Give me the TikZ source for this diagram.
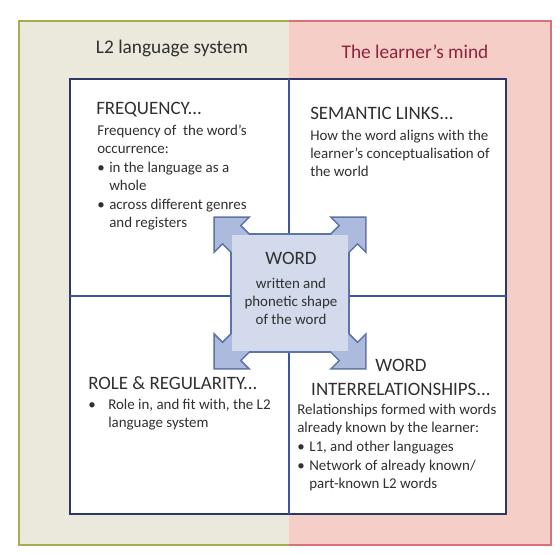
\documentclass[tikz,border=0pt]{standalone}
\usepackage{fontspec}
\setmainfont{Carlito}
\usepackage{tikz}

\definecolor{olivepanel}{HTML}{EAE9DB}
\definecolor{oliveline}{HTML}{A5AD4E}
\definecolor{pinkpanel}{HTML}{F4CEC7}
\definecolor{pinkline}{HTML}{D8707C}
\definecolor{navyline}{HTML}{2E3866}
\definecolor{divline}{HTML}{3B55A2}
\definecolor{wordfill}{HTML}{D3DAEC}
\definecolor{arrowfill}{HTML}{ABBADD}
\definecolor{wordline}{HTML}{5E73A8}
\definecolor{inktext}{HTML}{303030}
\definecolor{mindred}{HTML}{8E2340}

\newcommand{\bul}{\makebox[9pt][l]{\textbullet}}
\newcommand{\hng}{\hspace*{9pt}}

\tikzset{
  panetitle/.style={anchor=center, inner sep=0.75pt, font=\fontsize{14.5}{17}\selectfont},
  headline/.style={anchor=north west, inner sep=0pt, align=left, text=inktext, font=\fontsize{14.2}{18}\selectfont},
  bodyline/.style={anchor=north west, inner sep=0pt, align=left, text=inktext, font=\fontsize{11.2}{13.4}\selectfont},
}

\begin{document}
\begin{tikzpicture}[x=0.75pt,y=0.75pt,yscale=-1,xscale=1]
\useasboundingbox (0,0) rectangle (560,554);

%Shape: Rectangle [left pane]
\fill[olivepanel] (19,21) rectangle (289,545);
%Shape: Rectangle [right pane]
\fill[pinkpanel] (289,21) rectangle (551,545);
\draw[oliveline, line width=1.1pt] (289,21) -- (19,21) -- (19,545) -- (289,545);
\draw[pinkline, line width=1.1pt] (289,21) -- (551,21) -- (551,545) -- (289,545);

%Shape: Rectangle [inner box]
\filldraw[fill=white, draw=navyline, line width=1.5pt] (70,79) rectangle (506,514);
%Straight Lines
\draw[divline, line width=0.9pt] (289,79) -- (289,514);
%Straight Lines
\draw[divline, line width=0.9pt] (70,296) -- (506,296);

%Shape: word box with corner arrows
\begin{scope}[shift={(290,293)}]
\foreach \sx/\sy in {1/1,1/-1,-1/1,-1/-1}
  \draw[wordline, line width=2.4pt, xscale=\sx, yscale=\sy] (-75,-75) -- (-43,-75) -- (-50.5,-67.5) -- (-29.5,-46.5) -- (-46.5,-29.5) -- (-67.5,-50.5) -- (-75,-43) -- cycle;
\draw[wordline, line width=2.4pt] (-58,-58) rectangle (58,58);
\foreach \sx/\sy in {1/1,1/-1,-1/1,-1/-1}
  \fill[arrowfill, xscale=\sx, yscale=\sy] (-75,-75) -- (-43,-75) -- (-50.5,-67.5) -- (-29.5,-46.5) -- (-46.5,-29.5) -- (-67.5,-50.5) -- (-75,-43) -- cycle;
\fill[wordfill] (-58,-58) rectangle (58,58);
\end{scope}

% Text Node
\node[panetitle, text=inktext] (ttlsys) at (172,48) {L2 language system};
% Text Node
\node[panetitle, text=mindred] (ttlmind) at (415,52) {The learner’s mind};

% Text Node
\node[headline] (freqhead) at (96,102) {FREQUENCY...};
% Text Node
\node[bodyline] (freqbody) at (97,125) {Frequency of \ the word’s\\occurrence:\\[1pt]
  \bul in the language as a\\\hng whole\\[1pt]
  \bul across different genres\\\hng and registers};

% Text Node
\node[headline] (semhead) at (310,107) {SEMANTIC LINKS...};
% Text Node
\node[bodyline] (sembody) at (310,130) {How the word aligns with the\\learner’s conceptualisation of\\the world};

% Text Node
\node[headline] (rolehead) at (88,376) {ROLE \& REGULARITY...};
% Text Node
\node[bodyline] (rolebody) at (88,399) {\makebox[15pt][l]{\textbullet}Role in, and fit with, the L2\\\hspace*{15pt}language system};

% Text Node
\node[headline, anchor=north, align=center] (interhead) at (401,359) {WORD\\INTERRELATIONSHIPS...};
% Text Node
\node[bodyline] (interbody) at (297,404) {Relationships formed with words\\already known by the learner:\\[1pt]
  \bul L1, and other languages\\[1pt]
  \bul Network of already known/\\\hng part-known L2 words};

% Text Node
\node[headline, anchor=north, align=center] (wordhead) at (291,252) {WORD};
% Text Node
\node[bodyline, anchor=north, align=center, font=\fontsize{11.2}{13.6}\selectfont] (wordbody) at (291,278) {written and\\phonetic shape\\of the word};

\end{tikzpicture}
\end{document}
